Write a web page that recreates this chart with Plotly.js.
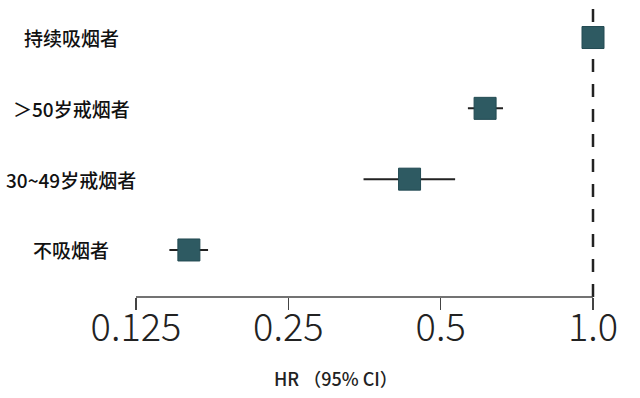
<!DOCTYPE html>
<html>
<head>
<meta charset="utf-8">
<script src="https://cdn.plot.ly/plotly-3.0.1.min.js"></script>
<style>html,body{margin:0;padding:0;background:#fff;}#chart{width:640px;height:398px;}</style>
</head>
<body>
<div id="chart"></div>
<script>
// Data (top to bottom)
const groups = ["持续吸烟者", "＞50岁戒烟者", "30~49岁戒烟者", "不吸烟者"];
const hr     = [1.0, 0.612, 0.434, 0.159];
const ciLow  = [1.0, 0.566, 0.352, 0.1455];
const ciHigh = [1.0, 0.664, 0.534, 0.1735];
const tickValues = [0.125, 0.25, 0.5, 1.0];
const tickLabels = ["0.125", "0.25", "0.5", "1.0"];
const xTitle = "HR （95% CI）";

const order = groups.slice().reverse(); // bottom first

const trace = {
  type: "scatter",
  mode: "markers",
  x: hr,
  y: groups,
  marker: {symbol: "square", size: 22, color: "#2e5a62", line: {color: "#224a52", width: 1}},
  error_x: {
    type: "data",
    symmetric: false,
    array: hr.map((v, i) => ciHigh[i] - v),
    arrayminus: hr.map((v, i) => v - ciLow[i]),
    color: "#222222",
    thickness: 2,
    width: 0
  },
  hoverinfo: "skip",
  showlegend: false
};

const labelAnnotations = groups.map(g => ({
  xref: "paper", yref: "y", x: -0.098, y: g,
  text: g, showarrow: false, xanchor: "center", yanchor: "middle",
  font: {family: "Noto Sans CJK SC", size: 19, color: "#111111", weight: 500}
}));

const layout = {
  width: 640, height: 398,
  margin: {l: 120, r: 20, t: 8, b: 101},
  paper_bgcolor: "#ffffff", plot_bgcolor: "#ffffff",
  xaxis: {
    type: "log",
    range: [-0.93471, 0.05336],
    tickvals: tickValues, ticktext: tickLabels,
    ticks: "outside", ticklen: 12, tickwidth: 1.5, tickcolor: "#444444",
    ticklabelstandoff: -15,
    showline: false, showgrid: false, zeroline: false,
    tickfont: {family: "Noto Sans CJK SC", size: 38, color: "#222222", weight: 300},
    fixedrange: true
  },
  yaxis: {
    type: "category",
    categoryorder: "array", categoryarray: order,
    range: [-0.664, 3.417],
    showticklabels: false, ticks: "", showgrid: false, zeroline: false, showline: false,
    fixedrange: true
  },
  shapes: [
    {type: "line", xref: "x", yref: "paper",
     x0: tickValues[0], x1: tickValues[tickValues.length - 1], y0: 0, y1: 0,
     line: {color: "#444444", width: 1.5}},
    {type: "line", xref: "x", yref: "paper", x0: 1.0, x1: 1.0, y0: 0, y1: 1,
     line: {color: "#222222", width: 2.5, dash: "13px,12px"}, layer: "below"}
  ],
  annotations: labelAnnotations.concat([{
    xref: "paper", yref: "paper", x: 0.432, y: 0, yshift: -81,
    text: xTitle, showarrow: false, xanchor: "center", yanchor: "middle",
    font: {family: "Noto Sans CJK SC", size: 18, color: "#222222", weight: 500}
  }])
};

Plotly.newPlot("chart", [trace], layout, {displayModeBar: false, staticPlot: true});
</script>
</body>
</html>
